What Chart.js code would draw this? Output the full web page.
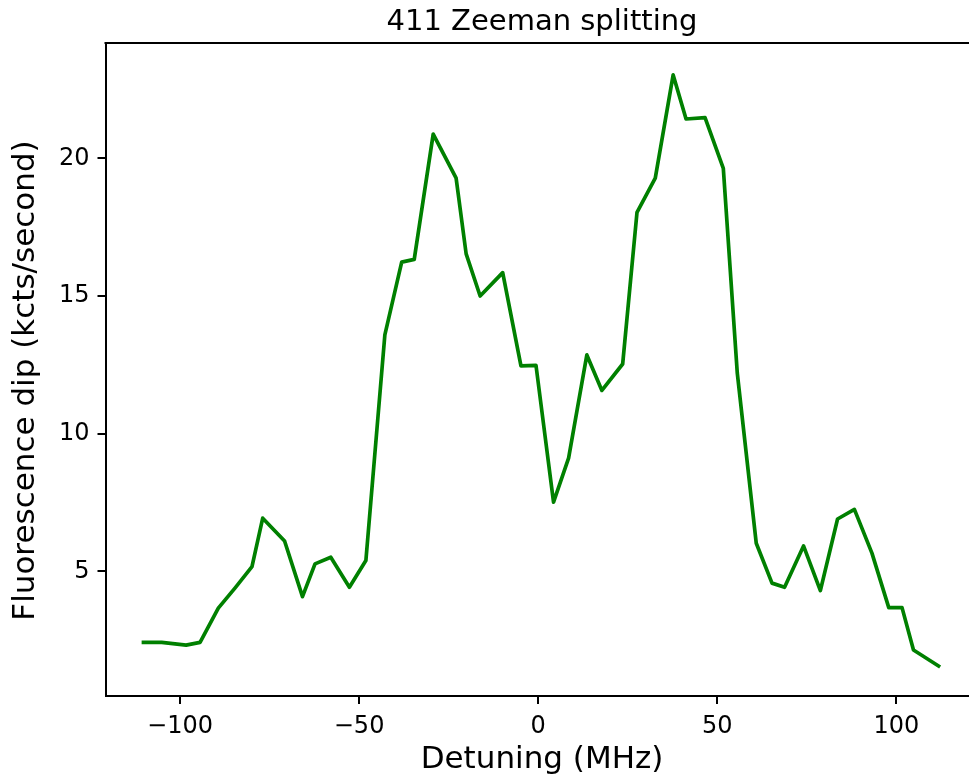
<!DOCTYPE html>
<html>
<head>
<meta charset="utf-8">
<script src="https://cdn.jsdelivr.net/npm/chart.js@4/dist/chart.umd.min.js"></script>
<style>
  html, body { margin: 0; padding: 0; background: #fff; overflow: hidden; }
  #wrap { width: 969px; height: 780px; }
</style>
</head>
<body>
<div id="wrap"><canvas id="c" width="969" height="780"></canvas></div>
<script>
// Detuning of the 411 nm laser (MHz) and the measured fluorescence dip (kcts/s)
const detuning = [
  -110.2, -105.1, -98.3, -94.4, -89.3, -84.6, -79.9, -76.9, -70.8, -65.8,
  -62.3, -57.9, -52.7, -48.1, -42.8, -38.1, -34.6, -29.3, -22.9, -20.1,
  -16.2, -9.9, -4.8, -0.6, 4.3, 8.5, 13.6, 17.8, 23.6, 27.6,
  32.7, 37.7, 41.3, 46.6, 51.7, 55.6, 60.9, 65.3, 68.8, 74.1,
  78.8, 83.6, 88.3, 93.2, 97.9, 101.6, 104.8, 111.8
];
const dip = [
  2.42, 2.42, 2.32, 2.42, 3.66, 4.40, 5.17, 6.93, 6.10, 4.08,
  5.27, 5.51, 4.42, 5.39, 13.59, 16.23, 16.33, 20.88, 19.28, 16.53,
  15.00, 15.85, 12.46, 12.48, 7.51, 9.11, 12.86, 11.57, 12.53, 18.04,
  19.28, 23.03, 21.43, 21.48, 19.64, 12.20, 6.02, 4.57, 4.42, 5.92,
  4.30, 6.90, 7.25, 5.66, 3.68, 3.68, 2.14, 1.56
];
const xTicks = [-100, -50, 0, 50, 100];
const yTicks = [5, 10, 15, 20];
const chartTitle = '411 Zeeman splitting';
const xTitle = 'Detuning (MHz)';
const yTitle = 'Fluorescence dip (kcts/second)';

const FONT = "'DejaVu Sans', sans-serif";
const minus = v => String(v).replace('-', '\u2212');

// Top edge of the frame, the chart title and both axis captions.
// The axes box runs a little past the right edge of the canvas, so the
// captions are centred on the full box (centre at x = 542).
const frame = {
  id: 'frame',
  afterDatasetsDraw(chart) {
    const { ctx, chartArea: a } = chart;
    const cx = 542;
    ctx.save();
    ctx.strokeStyle = '#000';
    ctx.lineWidth = 2;
    ctx.beginPath();
    ctx.moveTo(a.left - 1, a.top);
    ctx.lineTo(a.right + 2, a.top);
    ctx.stroke();

    ctx.fillStyle = '#000';
    ctx.textAlign = 'center';
    ctx.textBaseline = 'middle';

    ctx.font = '29px ' + FONT;
    ctx.fillText(chartTitle, cx, 22.4);

    ctx.font = '31px ' + FONT;
    ctx.fillText(xTitle, cx, 760.4);

    ctx.translate(26, (a.top + a.bottom) / 2 + 11);
    ctx.rotate(-Math.PI / 2);
    ctx.fillText(yTitle, 0, 0);
    ctx.restore();
  }
};

new Chart(document.getElementById('c'), {
  type: 'line',
  data: {
    datasets: [{
      data: detuning.map((x, i) => ({ x, y: dip[i] })),
      borderColor: '#008000',
      borderWidth: 3.7,
      pointRadius: 0,
      tension: 0,
      fill: false,
      borderJoinStyle: 'round',
      borderCapStyle: 'square'
    }]
  },
  options: {
    responsive: false,
    animation: false,
    layout: { padding: { left: 0, right: 0, top: 43, bottom: 0 } },
    plugins: {
      legend: { display: false },
      tooltip: { enabled: false },
      title: { display: false }
    },
    scales: {
      x: {
        type: 'linear',
        min: -120.8,
        max: 120.3,
        afterBuildTicks: s => { s.ticks = xTicks.map(v => ({ value: v })); },
        afterFit: s => { s.height = 84; },
        ticks: {
          color: '#000',
          font: { family: FONT, size: 24 },
          padding: 8,
          maxRotation: 0,
          autoSkip: false,
          callback: v => minus(v)
        },
        grid: { drawOnChartArea: false, drawTicks: true, tickLength: 8, color: '#000', lineWidth: 2 },
        border: { display: true, color: '#000', width: 2 },
        title: { display: false }
      },
      y: {
        type: 'linear',
        min: 0.47,
        max: 24.19,
        afterBuildTicks: s => { s.ticks = yTicks.map(v => ({ value: v })); },
        afterFit: s => { s.width = 105.5; },
        ticks: {
          color: '#000',
          font: { family: FONT, size: 24 },
          padding: 8,
          autoSkip: false,
          callback: v => minus(v)
        },
        grid: { drawOnChartArea: false, drawTicks: true, tickLength: 8, color: '#000', lineWidth: 2 },
        border: { display: true, color: '#000', width: 2 },
        title: { display: false }
      }
    }
  },
  plugins: [frame]
});
</script>
</body>
</html>
